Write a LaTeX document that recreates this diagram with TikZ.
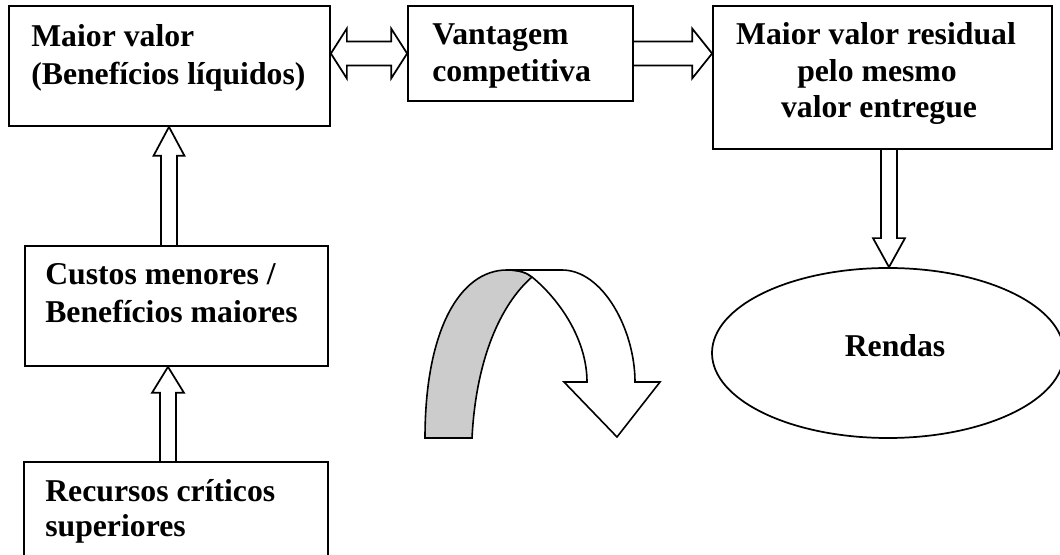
\documentclass[tikz,border=0pt]{standalone}
\usepackage{fontspec}
\setmainfont{Liberation Serif}
\usetikzlibrary{calc,shapes.geometric}

% hollow block arrow running vertically from #1 (tail) to #2 (tip);
% #3 half shaft width, #4 half head width, #5 head length (signed, towards the tail)
\newcommand\vblock[5]{%
  \draw[blockarrow] ($(#1)+(-#3,0)$) -- ($(#2)+(-#3,#5)$) -- ($(#2)+(-#4,#5)$)
    -- (#2) -- ($(#2)+(#4,#5)$) -- ($(#2)+(#3,#5)$) -- ($(#1)+(#3,0)$);}

\begin{document}
\begin{tikzpicture}[x=0.75pt,y=-0.75pt,
  box/.style={draw, line width=1.3pt, rectangle, inner sep=0pt},
  oval/.style={draw, line width=1.3pt, ellipse, inner sep=0pt},
  lbl/.style={inner sep=0pt, font=\fontsize{23.8}{27.4}\selectfont\bfseries},
  blockarrow/.style={draw, line width=1.3pt, line join=miter},
  ribbon/.style={draw, line width=1.2pt, line join=miter},
]
\useasboundingbox (0,0) rectangle (1060,555);

% boxes
\node[box, minimum width=240.75pt, minimum height=90pt]    (b1) at (169.5,66)  {};
\node[box, minimum width=168.75pt, minimum height=71.25pt] (b2) at (520.5,53.5) {};
\node[box, minimum width=254.25pt, minimum height=107.25pt] (b3) at (882.5,77.5) {};
\node[box, minimum width=227.25pt, minimum height=90pt]    (b4) at (176.5,306) {};
\node[box, minimum width=228pt, minimum height=103.5pt]    (b5) at (176,531)   {};
\node[oval, minimum width=264pt, minimum height=127.5pt]   (oval) at (888,353) {};

% texts
\node[lbl, anchor=base west] (t1a) at (31,47)  {Maior valor};
\node[lbl, anchor=base west] (t1b) at (31,85)  {(Benefícios líquidos)};
\node[lbl, anchor=base west] (t2a) at (432,45) {Vantagem};
\node[lbl, anchor=base west] (t2b) at (432,82) {competitiva};
\node[lbl, anchor=base] (t3a) at (876,45)  {Maior valor residual};
\node[lbl, anchor=base] (t3b) at (877,82)  {pelo mesmo};
\node[lbl, anchor=base] (t3c) at (879,118) {valor entregue};
\node[lbl, anchor=base west] (t4a) at (45,285) {Custos menores /};
\node[lbl, anchor=base west] (t4b) at (45,323) {Benefícios maiores};
\node[lbl, anchor=base west] (t5a) at (45,502) {Recursos críticos};
\node[lbl, anchor=base west] (t5b) at (45,537) {superiores};
\node[lbl, anchor=base] (t6) at (895,357) {Rendas};

% double block arrow between the two top-left boxes
\coordinate (dL) at (b1.east |- b2.center);
\coordinate (dR) at (b2.west);
\draw[blockarrow] (dL) -- ++(16,-25) -- ++(0,13) -- ($(dR)+(-16,-12)$) -- ++(0,-13)
  -- (dR) -- ++(-16,25) -- ++(0,-13) -- ($(dL)+(16,12)$) -- ++(0,13) -- cycle;

% block arrow towards the residual value box
\coordinate (rT) at (b3.west |- b2.east);
\draw[blockarrow] ($(b2.east)+(0,-12)$) -- ($(rT)+(-20,-12)$) -- ++(0,-13)
  -- (rT) -- ++(-20,25) -- ++(0,-13) -- ($(b2.east)+(0,12)$);

% vertical block arrows
\coordinate (ax1) at (169,0);
\coordinate (ax2) at (168,0);
\coordinate (ax3) at (889,0);
\vblock{b4.north -| ax1}{b1.south -| ax1}{8}{15.5}{29}
\vblock{b5.north -| ax2}{b4.south -| ax2}{8}{16}{26}
\vblock{b3.south -| ax3}{oval.north -| ax3}{8}{16}{-29}

% curved ribbon arrow
\draw[ribbon, fill=black!20] (425,438) .. controls (425,330) and (460,270) .. (507,270)
  .. controls (520,270) and (527,273) .. (532,277)
  .. controls (500,305) and (476,360) .. (472,438) -- cycle;
\draw[ribbon, fill=white] (507,270) -- (562,270)
  .. controls (603,270) and (635,330) .. (635,382) -- (660,382) -- (617,437)
  -- (564,382) -- (587,382) .. controls (587,340) and (560,300) .. (532,277)
  .. controls (527,273) and (520,270) .. (507,270) -- cycle;
\end{tikzpicture}
\end{document}
